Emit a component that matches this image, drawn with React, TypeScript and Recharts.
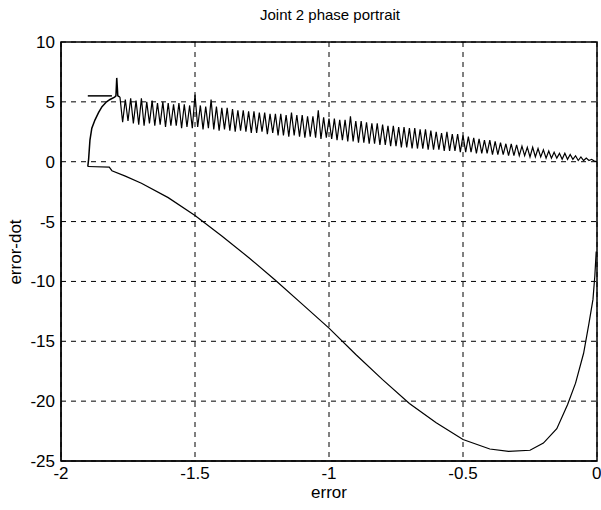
import { CartesianGrid, Line, LineChart, ReferenceArea, XAxis, YAxis } from 'recharts'

const errTicks = [-2, -1.5, -1, -0.5, 0]
const dotTicks = [-25, -20, -15, -10, -5, 0, 5, 10]

// lower arc of the trajectory, read from right to left
const lowerErr = [-0.003, -0.008, -0.015, -0.03, -0.05, -0.08, -0.11, -0.15, -0.2, -0.25, -0.33, -0.4, -0.5, -0.6, -0.7, -0.8, -0.9, -1.0, -1.1, -1.2, -1.3, -1.4, -1.5, -1.6, -1.7, -1.76, -1.81, -1.82, -1.9]
const lowerDot = [-7.5, -9.5, -11.5, -13.5, -16, -18.5, -20.3, -22.3, -23.5, -24.1, -24.2, -24.0, -23.2, -21.8, -20.2, -18.2, -16.1, -13.9, -11.9, -9.9, -8.0, -6.2, -4.5, -3.0, -1.8, -1.2, -0.75, -0.45, -0.4]

// jump up onto the sliding line
const riseErr = [-1.9, -1.897, -1.892, -1.885, -1.873, -1.86, -1.847, -1.83, -1.817, -1.8, -1.795, -1.792, -1.788, -1.78]
const riseDot = [-0.4, 0.2, 1.8, 2.8, 3.5, 4.1, 4.6, 5.0, 5.2, 5.4, 5.5, 7.0, 5.5, 5.4]

const shelfErr = [-1.9, -1.81]
const shelfDot = [5.5, 5.5]

// chattering along the sliding surface
const chatterErr = [
  -1.78, -1.77, -1.76, -1.75, -1.74, -1.73, -1.72, -1.71, -1.7, -1.69,
  -1.68, -1.67, -1.66, -1.65, -1.64, -1.63, -1.62, -1.61, -1.6, -1.59,
  -1.58, -1.57, -1.56, -1.55, -1.54, -1.53, -1.52, -1.51, -1.5, -1.49,
  -1.48, -1.47, -1.46, -1.45, -1.44, -1.43, -1.42, -1.41, -1.4, -1.39,
  -1.38, -1.37, -1.36, -1.35, -1.34, -1.33, -1.32, -1.31, -1.3, -1.29,
  -1.28, -1.27, -1.26, -1.25, -1.24, -1.23, -1.22, -1.21, -1.2, -1.19,
  -1.18, -1.17, -1.16, -1.15, -1.14, -1.13, -1.12, -1.11, -1.1, -1.09,
  -1.08, -1.07, -1.06, -1.05, -1.04, -1.03, -1.02, -1.01, -1.0, -0.99,
  -0.98, -0.97, -0.96, -0.95, -0.94, -0.93, -0.92, -0.91, -0.9, -0.89,
  -0.88, -0.87, -0.86, -0.85, -0.84, -0.83, -0.82, -0.81, -0.8, -0.79,
  -0.78, -0.77, -0.76, -0.75, -0.74, -0.73, -0.72, -0.71, -0.7, -0.69,
  -0.68, -0.67, -0.66, -0.65, -0.64, -0.63, -0.62, -0.61, -0.6, -0.59,
  -0.58, -0.57, -0.56, -0.55, -0.54, -0.53, -0.52, -0.51, -0.5, -0.49,
  -0.48, -0.47, -0.46, -0.45, -0.44, -0.43, -0.42, -0.41, -0.4, -0.39,
  -0.38, -0.37, -0.36, -0.35, -0.34, -0.33, -0.32, -0.31, -0.3, -0.29,
  -0.28, -0.27, -0.26, -0.25, -0.24, -0.23, -0.22, -0.21, -0.2, -0.19,
  -0.18, -0.17, -0.16, -0.15, -0.14, -0.13, -0.12, -0.11, -0.1, -0.09,
  -0.08, -0.07, -0.06, -0.05, -0.04, -0.03, -0.02, -0.01, 0,
]
const chatterDot = [
  5.4, 3.3, 5.2, 3.4, 5.3, 3.2, 5.1, 3.1, 5.3, 3.0,
  5.0, 3.2, 5.1, 3.0, 4.9, 3.1, 5.0, 2.9, 4.9, 3.0,
  4.8, 3.0, 4.9, 2.8, 4.8, 2.9, 4.7, 2.8, 5.6, 2.9,
  4.7, 2.7, 4.6, 2.8, 5.2, 2.7, 4.6, 2.6, 4.5, 2.7,
  4.5, 2.6, 4.4, 2.5, 4.3, 2.6, 4.3, 2.5, 4.2, 2.4,
  4.2, 2.4, 4.1, 2.5, 4.1, 2.3, 4.0, 2.4, 4.0, 2.2,
  4.0, 2.2, 3.9, 2.1, 4.1, 2.2, 3.9, 2.1, 3.9, 2.0,
  3.8, 2.1, 3.8, 2.0, 4.3, 1.9, 3.7, 2.0, 3.6, 1.9,
  3.6, 1.8, 3.5, 1.8, 3.5, 1.7, 3.8, 1.7, 3.4, 1.6,
  3.4, 1.6, 3.3, 1.5, 3.2, 1.5, 3.2, 1.4, 3.1, 1.4,
  3.0, 1.3, 3.0, 1.3, 2.9, 1.2, 2.9, 1.2, 2.8, 1.1,
  2.8, 1.1, 2.7, 1.1, 2.7, 1.0, 2.6, 1.0, 2.5, 1.0,
  2.4, 0.9, 2.5, 0.9, 2.3, 0.9, 2.3, 0.8, 2.2, 0.8,
  2.1, 0.8, 2.0, 0.7, 1.9, 0.7, 1.8, 0.7, 1.8, 0.6,
  1.7, 0.6, 1.6, 0.6, 1.5, 0.5, 1.5, 0.5, 1.4, 0.5,
  1.3, 0.5, 1.2, 0.4, 1.2, 0.4, 1.1, 0.4, 1.0, 0.3,
  0.9, 0.3, 0.8, 0.3, 0.7, 0.2, 0.7, 0.2, 0.6, 0.2,
  0.5, 0.1, 0.4, 0.1, 0.3, 0.1, 0.2, 0.05, 0.0,
]

const pts = (xs: number[], ys: number[]) => xs.map((x, i) => ({ x, y: ys[i] }))

const FONT = '"Liberation Sans", Arial, sans-serif'
const tickStyle = { fill: '#000', fontSize: 17, fontFamily: FONT }

export default function App() {
  return (
    <div style={{ position: 'absolute', left: 0, top: 0, width: 601, height: 510, background: '#fff', fontFamily: FONT }}>
      <div style={{ position: 'absolute', top: 6, left: 0, width: 660, textAlign: 'center', fontSize: 15, color: '#000' }}>
        Joint 2 phase portrait
      </div>
      <div
        style={{
          position: 'absolute',
          left: 16,
          top: 252,
          transform: 'translate(-50%, -50%) rotate(-90deg)',
          fontSize: 17,
          whiteSpace: 'nowrap',
          color: '#000',
        }}
      >
        error-dot
      </div>
      <LineChart width={601} height={510} margin={{ top: 42, right: 4, bottom: 0, left: 0 }}>
        <CartesianGrid stroke="#000" strokeDasharray="5 5" horizontalValues={dotTicks} verticalValues={errTicks} />
        <XAxis
          type="number"
          dataKey="x"
          domain={[-2, 0]}
          ticks={errTicks}
          tickFormatter={(v: number) => String(v)}
          height={49}
          tick={tickStyle}
          tickLine={false}
          tickSize={4}
          tickMargin={2}
          axisLine={{ stroke: '#000' }}
          allowDataOverflow
          label={{ value: 'error', position: 'insideBottom', offset: 12, fill: '#000', fontSize: 17, fontFamily: FONT }}
        />
        <YAxis
          type="number"
          dataKey="y"
          domain={[-25, 10]}
          ticks={dotTicks}
          width={61}
          tick={tickStyle}
          tickLine={false}
          tickSize={4}
          tickMargin={2}
          axisLine={{ stroke: '#000' }}
          allowDataOverflow
        />
        <ReferenceArea x1={-2} x2={0} y1={-25} y2={10} fill="none" stroke="#000" strokeWidth={1.5} />
        <Line data={pts(lowerErr, lowerDot)} dataKey="y" stroke="#000" strokeWidth={1.2} dot={false} isAnimationActive={false} />
        <Line data={pts(riseErr, riseDot)} dataKey="y" stroke="#000" strokeWidth={1.5} dot={false} isAnimationActive={false} />
        <Line data={pts(shelfErr, shelfDot)} dataKey="y" stroke="#000" strokeWidth={1.5} dot={false} isAnimationActive={false} />
        <Line data={pts(chatterErr, chatterDot)} dataKey="y" stroke="#000" strokeWidth={1.2} dot={false} isAnimationActive={false} />
      </LineChart>
    </div>
  )
}
